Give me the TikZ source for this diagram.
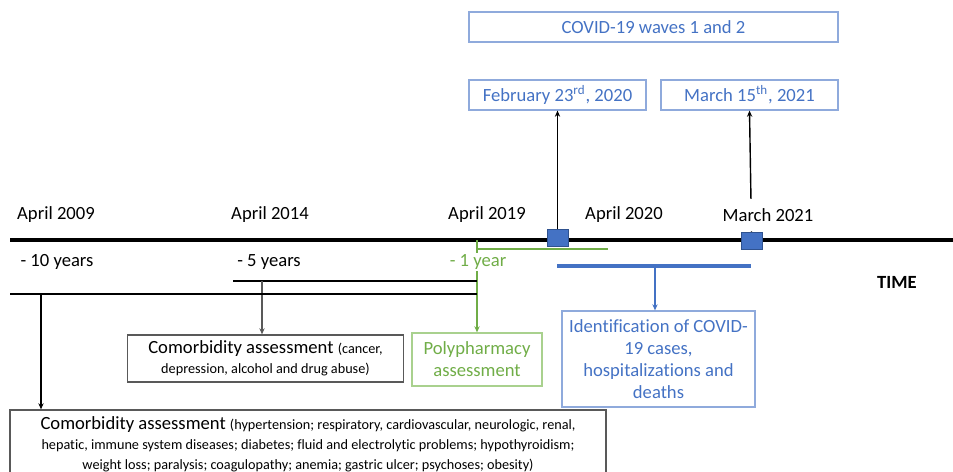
\documentclass[tikz,border=0pt]{standalone}
\usepackage{fontspec}
\setmainfont{Carlito}[Ligatures=NoCommon]
\usetikzlibrary{arrows.meta}
\definecolor{cblue}{HTML}{4472C4}
\definecolor{cbluebox}{HTML}{8FAADC}
\definecolor{cbluedark}{HTML}{2F528F}
\definecolor{cgreen}{HTML}{70AD47}
\definecolor{cgreenbox}{HTML}{A9D18E}
\definecolor{cgray}{HTML}{595959}
\newcommand{\smalltxt}{\fontsize{8.1}{11.3}\selectfont}

\begin{document}
\begin{tikzpicture}[x=0.02cm,y=-0.02cm,
  every node/.style={inner sep=0pt, font=\fontsize{10.6}{12.5}\selectfont},
  bluebox/.style={draw=cbluebox, line width=0.7pt, text=cblue, align=center},
  greenbox/.style={draw=cgreenbox, line width=0.7pt, text=cgreen, align=center},
  graybox/.style={draw=cgray, line width=0.7pt, align=center, font=\fontsize{10.6}{11.3}\selectfont},
  marker/.style={draw=cbluedark, fill=cblue, line width=0.4pt, minimum width=0.42cm, minimum height=0.34cm},
  yearlbl/.style={anchor=center},
  link/.style={line width=0.6pt, -{Stealth[length=3.5pt,width=3pt]}}]
\useasboundingbox (0,0) rectangle (953,472);

\node[bluebox, minimum width=7.38cm, minimum height=0.6cm] (waves) at (653.5,27) {COVID-19 waves 1 and 2};
\node[bluebox, minimum width=3.54cm, minimum height=0.6cm] (feb) at (557.5,95) {February 23\textsuperscript{rd}, 2020};
\node[bluebox, minimum width=3.54cm, minimum height=0.6cm] (mar) at (749.5,95) {March 15\textsuperscript{th}, 2021};

\draw[line width=1.8pt] (10,240) coordinate (t0) -- (953,240) coordinate (t1);

\node[marker] (sqA) at (557.5,238) {};
\node[marker] (sqB) at (751.5,240.5) {};
\draw[link, line width=0.8pt] (sqA.north) -- (feb.south);
\draw[link, line width=0.8pt] (sqB.north) -- (mar.south);

\node[yearlbl] (y2009) at (56,215) {April 2009};
\node[yearlbl] (y2014) at (270,215) {April 2014};
\node[yearlbl] (y2019) at (487,215) {April 2019};
\node[yearlbl] (y2020) at (624,215) {April 2020};
\node[yearlbl, fill=white, minimum height=0.64cm] (y2021) at (768,215) {March 2021};

\node[graybox, minimum width=5.52cm, minimum height=0.94cm] (como1) at (265.5,358.5)
  {Comorbidity assessment {\smalltxt(cancer,}\\{\smalltxt depression, alcohol and drug abuse)}};
\node[greenbox, minimum width=2.6cm, minimum height=1.06cm] (poly) at (477,359.5)
  {Polypharmacy\\assessment};
\node[bluebox, minimum width=3.86cm, minimum height=1.92cm] (ident) at (658.5,359)
  {\makebox[3.7cm][c]{Identification of COVID-}\\
   \makebox[3.7cm][c]{19 cases,}\\
   \makebox[3.7cm][c]{hospitalizations and}\\
   \makebox[3.7cm][c]{deaths}};
\node[graybox, minimum width=11.92cm, minimum height=1.36cm] (como2) at (308,444)
  {Comorbidity assessment {\smalltxt(hypertension; respiratory, cardiovascular, neurologic, renal,}\\
   {\smalltxt hepatic, immune system diseases; diabetes; fluid and electrolytic problems; hypothyroidism;}\\
   {\smalltxt weight loss; paralysis; coagulopathy; anemia; gastric ulcer; psychoses; obesity)}};

\draw[cgreen, line width=0.8pt] (477,249) coordinate (g0) -- (608,249) coordinate (g1);
\draw[link, cgreen] (477,240) -- (poly.north);

\draw[cblue, line width=1.8pt] (557,266) coordinate (b0) -- (751,266) coordinate (b1);
\draw[link, cblue] (655,266) coordinate (bm) -- (bm |- ident.north);

\draw[line width=0.8pt] (233,281) coordinate (f0) -- (477,281) coordinate (f1);
\draw[link, cgray] (262,281) coordinate (fm) -- (fm |- como1.north);

\draw[line width=0.8pt] (10,294) coordinate (e0) -- (477,294) coordinate (e1);
\draw[link] (41,294) coordinate (em) -- (em |- como2.north);

\node (m10) at (57,262) {- 10 years};
\node (m5) at (269,262) {- 5 years};
\node[text=cgreen, fill=white, inner sep=1pt] (m1) at (478,262) {- 1 year};
\node[font=\fontsize{10.6}{12.5}\selectfont\bfseries] (time) at (897,282) {TIME};
\end{tikzpicture}
\end{document}
